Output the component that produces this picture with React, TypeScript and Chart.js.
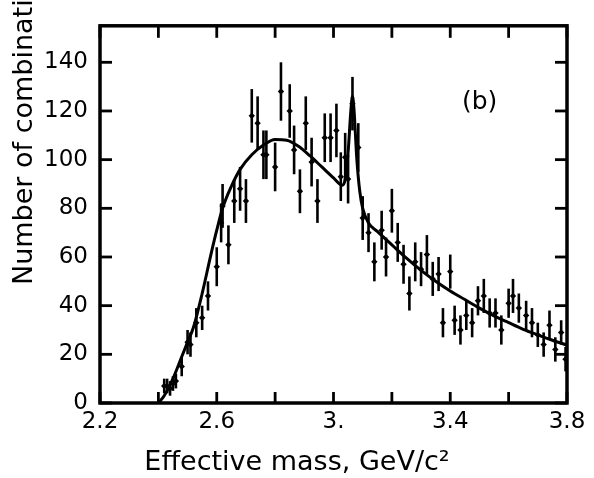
import React, { useEffect, useRef } from 'react';
import { Chart, registerables } from 'chart.js';

Chart.register(...registerables);

// ---- data ----
const massBins = [
  2.42, 2.43, 2.44, 2.45, 2.46, 2.48, 2.50, 2.51, 2.53, 2.55, 2.57, 2.60, 2.615, 2.62, 2.64, 2.66, 2.68, 2.70,
  2.72, 2.74, 2.76, 2.77, 2.80, 2.82, 2.85, 2.865, 2.885, 2.905, 2.925, 2.945, 2.97, 2.99, 3.01, 3.025, 3.04,
  3.05, 3.065, 3.085, 3.10, 3.12, 3.14, 3.165, 3.18, 3.20, 3.22, 3.24, 3.26, 3.28, 3.30, 3.32, 3.34, 3.36,
  3.375, 3.40, 3.415, 3.435, 3.455, 3.475, 3.495, 3.515, 3.535, 3.555, 3.575, 3.60, 3.615, 3.635, 3.66, 3.68,
  3.70, 3.72, 3.74, 3.76, 3.78, 3.795,
];
const counts = [
  7, 7, 6, 8, 9, 15, 25, 24, 33, 35, 44, 56, 74, 81, 65, 83, 88, 83,
  118, 115, 102, 102, 97, 128, 120, 104, 87, 115, 99, 83, 109, 109, 112, 93, 101,
  92, 123, 105, 76, 70, 58, 71, 60, 79, 66, 57, 45, 58, 55, 61, 51, 53,
  33, 54, 34, 30, 36, 33, 42, 44, 37, 37, 30, 41, 44, 39, 36, 33,
  28, 24, 32, 22, 29, 18,
];
const countErrors = [
  3, 3, 3, 3, 3, 4, 5, 5, 6, 5, 6, 8, 8, 9, 8, 9, 9, 9,
  11, 11, 10, 10, 10, 12, 11, 10, 9, 11, 10, 9, 10, 10, 11, 10, 10,
  10, 11, 10, 9, 8, 8, 8, 8, 9, 8, 8, 7, 8, 7, 8, 7, 7,
  6, 7, 6, 6, 6, 6, 6, 7, 6, 6, 6, 6, 7, 6, 6, 6,
  5, 5, 6, 5, 5, 5,
];
const fitMass = [
  2.40, 2.42, 2.45, 2.48, 2.50, 2.52, 2.55, 2.58, 2.60, 2.62, 2.65, 2.68, 2.72, 2.76, 2.80, 2.84, 2.88, 2.92,
  2.96, 3.00, 3.03, 3.04, 3.05, 3.06, 3.065, 3.07, 3.08, 3.09, 3.10, 3.12, 3.15, 3.20, 3.25, 3.30, 3.35, 3.40,
  3.45, 3.50, 3.55, 3.60, 3.65, 3.70, 3.75, 3.80,
];
const fitCounts = [
  0, 3, 10, 19, 25, 31, 45, 61, 71, 80, 89, 96, 102, 106, 108.3, 108, 105.5, 101.5,
  97, 92.5, 89.5, 92, 103, 121, 126, 121, 100, 87, 80, 74, 70.5, 65, 59.5, 54.5, 50, 46,
  42.5, 39, 35.8, 33, 30.3, 28, 25.8, 23.8,
];
const xTickValues = [2.2, 2.4, 2.6, 2.8, 3.0, 3.2, 3.4, 3.6, 3.8];
const xTickLabels = ['2.2', '', '2.6', '', '3.', '', '3.4', '', '3.8'];
const yTickValues = [0, 20, 40, 60, 80, 100, 120, 140];
const yTickLabels = ['0', '20', '40', '60', '80', '100', '120', '140'];
const yTitle = 'Number of combinations';
const xTitle = 'Effective mass, GeV/c\u00B2';
const panelLabel = '(b)';

const FONT = '"DejaVu Sans", sans-serif';

const decorPlugin = {
  id: 'decor',
  afterDatasetsDraw(chart: any) {
    const { ctx, chartArea: a, scales } = chart;
    const x = scales.x;
    const y = scales.y;
    ctx.save();
    ctx.strokeStyle = '#000';
    ctx.fillStyle = '#000';
    ctx.lineCap = 'butt';
    const line = (x1: number, y1: number, x2: number, y2: number) => {
      ctx.beginPath();
      ctx.moveTo(x1, y1);
      ctx.lineTo(x2, y2);
      ctx.stroke();
    };
    // error bars
    ctx.lineWidth = 2.6;
    massBins.forEach((m, i) => {
      const px = x.getPixelForValue(m);
      line(px, y.getPixelForValue(counts[i] - countErrors[i]), px, y.getPixelForValue(counts[i] + countErrors[i]));
    });
    // frame
    ctx.lineWidth = 3.5;
    ctx.strokeRect(a.left, a.top, a.right - a.left, a.bottom - a.top);
    // inward ticks
    ctx.lineWidth = 2.8;
    xTickValues.forEach((v) => {
      const px = x.getPixelForValue(v);
      line(px, a.bottom, px, a.bottom - 11);
      line(px, a.top, px, a.top + 12);
    });
    yTickValues.forEach((v) => {
      const py = y.getPixelForValue(v);
      line(a.left, py, a.left + 12, py);
      line(a.right, py, a.right - 12, py);
    });
    // panel label
    ctx.font = `25px ${FONT}`;
    ctx.textAlign = 'left';
    ctx.textBaseline = 'alphabetic';
    ctx.fillText(panelLabel, x.getPixelForValue(3.44), y.getPixelForValue(121));
    // x title
    ctx.font = `27px ${FONT}`;
    ctx.textAlign = 'center';
    ctx.fillText(xTitle, 297, 470);
    // y title (runs off the top edge as in the reference)
    ctx.translate(32, 285);
    ctx.rotate(-Math.PI / 2);
    ctx.font = `27px ${FONT}`;
    ctx.textAlign = 'left';
    ctx.fillText(yTitle, 0, 0);
    ctx.restore();
  },
};

export default function App() {
  const ref = useRef<HTMLCanvasElement | null>(null);
  useEffect(() => {
    if (!ref.current) return;
    const chart = new Chart(ref.current, {
      type: 'scatter',
      data: {
        datasets: [
          {
            label: 'data',
            data: massBins.map((m, i) => ({ x: m, y: counts[i] })),
            pointRadius: 3.2,
            pointStyle: 'rectRot',
            pointBackgroundColor: '#000',
            pointBorderWidth: 0,
            showLine: false,
          },
          {
            label: 'fit',
            data: fitMass.map((m, i) => ({ x: m, y: fitCounts[i] })),
            showLine: true,
            borderColor: '#000',
            borderWidth: 3,
            pointRadius: 0,
            cubicInterpolationMode: 'monotone',
            fill: false,
          },
        ],
      },
      options: {
        animation: false,
        responsive: false,
        devicePixelRatio: 1,
        layout: { padding: { left: 0, right: 27, top: 11, bottom: 0 } },
        plugins: { legend: { display: false }, tooltip: { enabled: false } },
        scales: {
          x: {
            type: 'linear',
            min: 2.2,
            max: 3.8,
            grid: { display: false, drawTicks: false },
            border: { display: false },
            afterBuildTicks: (s: any) => {
              s.ticks = xTickValues.map((v) => ({ value: v }));
            },
            afterFit: (s: any) => {
              s.height = 75;
            },
            ticks: {
              autoSkip: false,
              maxRotation: 0,
              padding: 5,
              color: '#000',
              font: { family: FONT, size: 23 },
              callback: (v: any) => {
                const i = xTickValues.findIndex((t) => Math.abs(t - Number(v)) < 1e-6);
                return i >= 0 ? xTickLabels[i] : '';
              },
            },
          },
          y: {
            type: 'linear',
            min: 0,
            max: 155,
            grid: { display: false, drawTicks: false },
            border: { display: false },
            afterBuildTicks: (s: any) => {
              s.ticks = yTickValues.map((v) => ({ value: v }));
            },
            afterFit: (s: any) => {
              s.width = 100;
            },
            ticks: {
              autoSkip: false,
              padding: 12,
              color: '#000',
              font: { family: FONT, size: 23 },
              callback: (v: any) => {
                const i = yTickValues.indexOf(Number(v));
                return i >= 0 ? yTickLabels[i] : '';
              },
            },
          },
        },
      },
      plugins: [decorPlugin],
    } as any);
    return () => chart.destroy();
  }, []);
  return (
    <div style={{ position: 'fixed', left: 0, top: 0, width: 594, height: 478, background: '#fff' }}>
      <canvas ref={ref} width={594} height={478} style={{ width: 594, height: 478 }} />
    </div>
  );
}
